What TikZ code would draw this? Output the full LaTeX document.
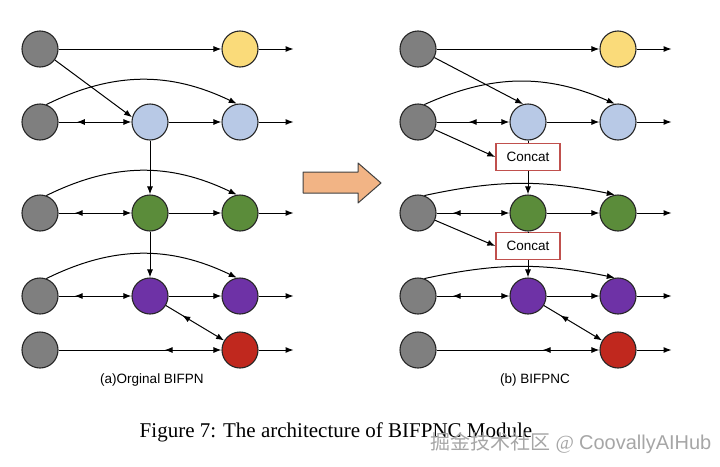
\documentclass[tikz,border=0pt]{standalone}
\usepackage{fontspec}
\setmainfont{Liberation Serif}
\setsansfont{Liberation Sans}
\newfontfamily\cjkfont{Noto Sans CJK SC}
\usetikzlibrary{arrows.meta,decorations.markings}
\definecolor{cgray}{HTML}{7F7F7F}
\definecolor{cyellow}{HTML}{FADB7A}
\definecolor{cblue}{HTML}{B8C9E6}
\definecolor{cgreen}{HTML}{5B8C3A}
\definecolor{cpurple}{HTML}{6E32A6}
\definecolor{cred}{HTML}{C0281E}
\definecolor{cbox}{HTML}{C0504D}
\definecolor{corange}{HTML}{F2B485}
\tikzset{
  lvl/.style={circle, draw=black!85, line width=1.1pt, minimum size=36pt, inner sep=0pt},
  concatbox/.style={draw=cbox, line width=1.4pt, fill=white, minimum width=64pt, minimum height=27pt, font=\sffamily\fontsize{13.5}{13.5}\selectfont},
  back/.style={postaction={decorate}, decoration={markings, mark=at position #1 with {\arrow{<}}}},
}
\begin{document}
\begin{tikzpicture}[x=1pt, y=-1pt, line width=1pt, >={Latex[length=8pt,width=6pt]}]
  \useasboundingbox (0,0) rectangle (720,466);
  % both panels: levels and the common connectors
  \foreach \p/\dx/\bb/\bc/\bm in {a/0/26/26/.36, b/378/24/12/.55}{
    \begin{scope}[xshift=\dx pt]
      \foreach \r/\y in {1/49,2/122,3/213,4/296,5/350} \node[lvl, fill=cgray] (\p g\r) at (40,\y) {};
      \node[lvl, fill=cblue] (\p m2) at (150,122) {};
      \node[lvl, fill=cgreen] (\p m3) at (150,213) {};
      \node[lvl, fill=cpurple] (\p m4) at (150,296) {};
      \node[lvl, fill=cyellow] (\p r1) at (240,49) {};
      \node[lvl, fill=cblue] (\p r2) at (240,122) {};
      \node[lvl, fill=cgreen] (\p r3) at (240,213) {};
      \node[lvl, fill=cpurple] (\p r4) at (240,296) {};
      \node[lvl, fill=cred] (\p r5) at (240,350) {};
      \draw[->] (\p g1) -- (\p r1);
      \draw[->, back=\bm] (\p g2) -- (\p m2);
      \draw[->, back=.33] (\p g3) -- (\p m3);
      \draw[->, back=.33] (\p g4) -- (\p m4);
      \draw[->, back=.7] (\p g5) -- (\p r5);
      \draw[->, back=.4] (\p m4) -- (\p r5);
      \foreach \r in {2,3,4} \draw[->] (\p m\r) -- (\p r\r);
      \draw[->] (\p g2.70) to[bend left=\bb] (\p r2.100);
      \foreach \r in {3,4} \draw[->] (\p g\r.70) to[bend left=\bc] (\p r\r.100);
      \foreach \r in {1,...,5} \draw[->] (\p r\r.east) -- ++(35,0);
    \end{scope}}
  % (a) top-down path
  \draw[->] (ag1) -- (am2.165);
  \draw[->] (am2) -- (am3);
  \draw[->] (am3) -- (am4);
  % (b) with concat
  \node[concatbox] (bc1) at (528,157) {Concat};
  \node[concatbox] (bc2) at (528,246) {Concat};
  \draw[->] (bg1) -- (bm2.105);
  \draw[->] (bg2) -- (bc1.west);
  \draw (bm2) -- (bc1);
  \draw[->] (bc1) -- (bm3);
  \draw[->] (bg3) -- (bc2.west);
  \draw (bm3) -- (bc2);
  \draw[->] (bc2) -- (bm4);
  % big arrow
  \draw[fill=corange, draw=black!75, line width=1pt, line join=round]
    (303,172) -- (358,172) -- (358,163) -- (381,183) -- (358,203) -- (358,193) -- (303,193) -- cycle;
  % labels
  \node[font=\sffamily\fontsize{13.5}{13.5}\selectfont] (alab) at (152,380) {(a)Orginal BIFPN};
  \node[font=\sffamily\fontsize{13.5}{13.5}\selectfont] (blab) at (535,380) {(b) BIFPNC};
  \node[font=\fontsize{21}{21}\selectfont] (cap) at (336,432) {Figure 7: The architecture of BIFPNC Module};
  \node[font=\fontsize{20}{20}\selectfont, text=black!35] (wm) at (571,443) {{\cjkfont 掘金技术社区} @ \sffamily CoovallyAIHub};
\end{tikzpicture}
\end{document}
